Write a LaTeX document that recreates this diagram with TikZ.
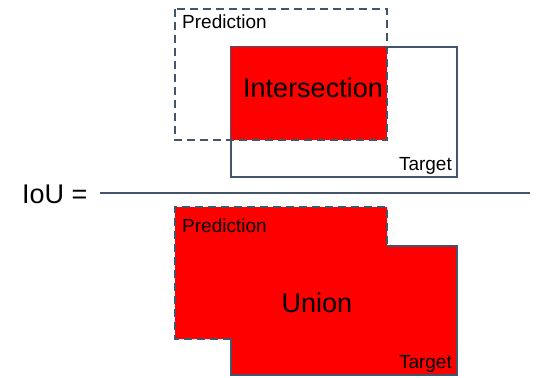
\documentclass[tikz,border=0pt]{standalone}
\usepackage{fontspec}
\setmainfont{Liberation Sans}
\usetikzlibrary{positioning, calc}
\definecolor{SlateLine}{HTML}{44546A}
\definecolor{AreaRed}{HTML}{FF0000}
\tikzset{
    % Box outline styles
    predbox/.style={
        draw=SlateLine,
        line width=2pt,
        dash pattern=on 8pt off 5pt
    },
    targetbox/.style={
        draw=SlateLine,
        line width=2pt
    },
    areafill/.style={
        fill=AreaRed,
        draw=none
    },
    % Text styles
    smalllabel/.style={
        inner sep=0pt,
        font=\fontsize{19}{22}\selectfont
    },
    biglabel/.style={
        inner sep=0pt,
        font=\fontsize{27}{32}\selectfont
    },
    % Fraction bar
    fracline/.style={
        draw=SlateLine,
        line width=2pt
    }
}

\begin{document}
\begin{tikzpicture}[x=1pt, y=-1pt]
                \useasboundingbox (0,0) rectangle (537,377);

                % Numerator: intersection
                \draw[targetbox] (231,47) rectangle (457,177);
                \fill[areafill] (231,47) rectangle (387,140);
                \draw[predbox] (175,9) rectangle (387,140);
                \node[smalllabel,anchor=base west] (predtop) at (182,29) {Prediction};
                \node[smalllabel,anchor=base east] (targettop) at (452,170) {Target};
                \node[biglabel,anchor=base] (inter) at (313,97) {Intersection};

                % Fraction bar
                \node[biglabel,anchor=base west] (iou) at (22,203) {IoU =};
                \coordinate (barstart) at (100,193);
                \coordinate (barend) at (530,193);
                \draw[fracline] (barstart) -- (barend);

                % Denominator: union
                \fill[areafill] (175,207) -| (387,246) -| (457,375) -| (231,339) -- (175,339) -- cycle;
                \draw[targetbox] (387,246) -| (457,375) -| (231,339);
                \draw[predbox] (231,339) -- (175,339) |- (387,207) -- (387,246);
                \node[smalllabel,anchor=base west] (predbot) at (182,232) {Prediction};
                \node[smalllabel,anchor=base east] (targetbot) at (452,368) {Target};
                \node[biglabel,anchor=base] (union) at (317,312) {Union};
            \end{tikzpicture}
\end{document}
